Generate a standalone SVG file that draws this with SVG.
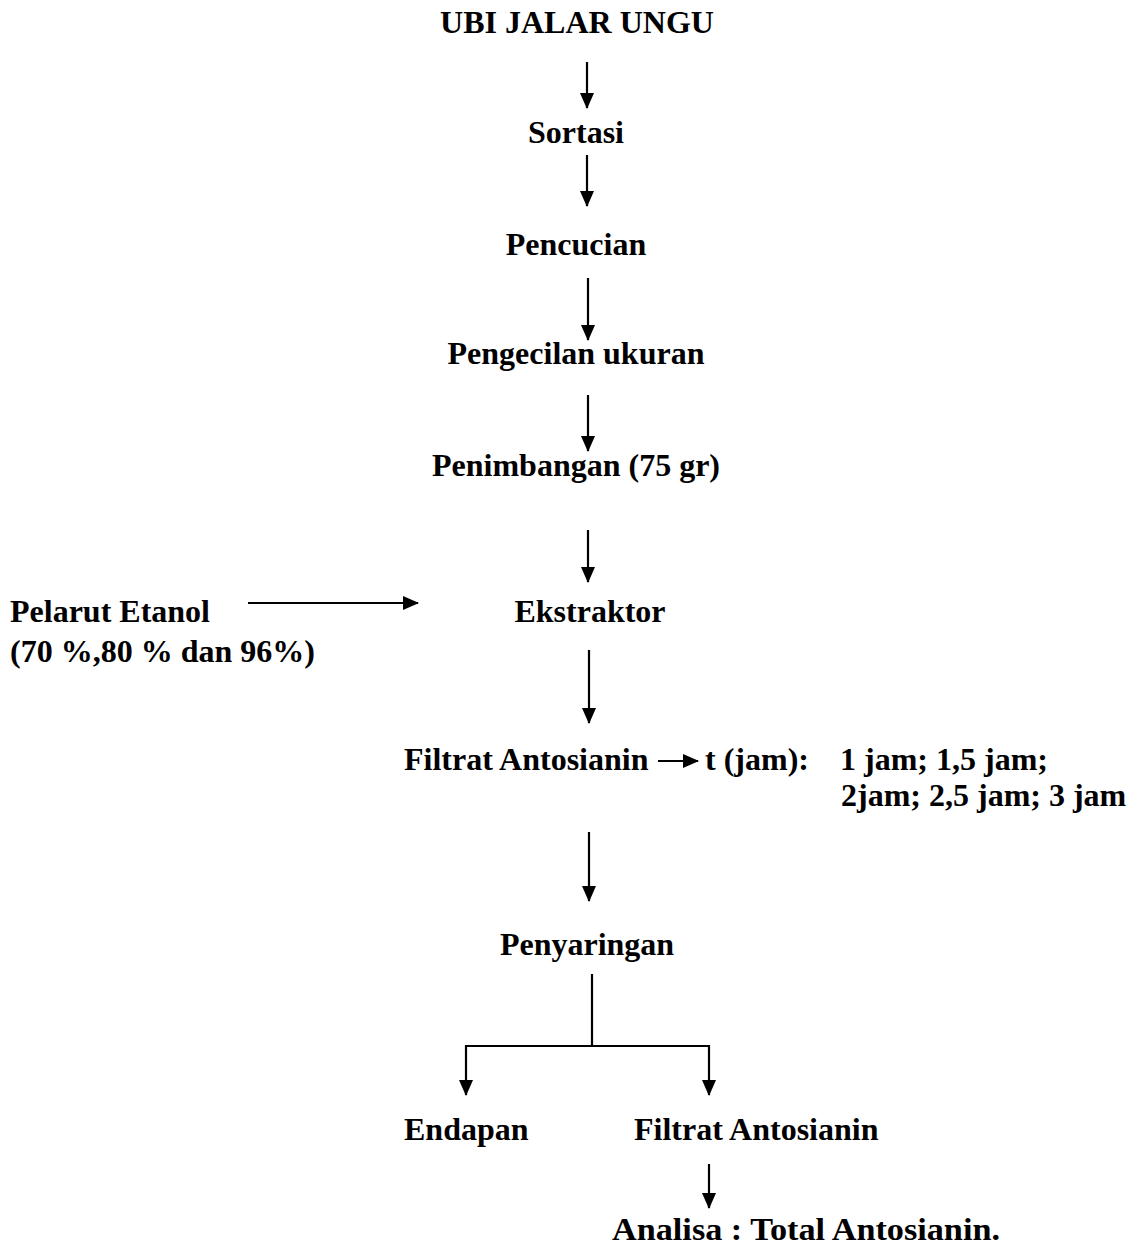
<svg xmlns="http://www.w3.org/2000/svg" width="1136" height="1251" viewBox="0 0 1136 1251">
<defs>
<style>
text{font-family:"Liberation Serif","Times New Roman",serif;font-weight:bold;font-size:32px;fill:#000}
.c{text-anchor:middle}
.ln{stroke:#000;stroke-width:2.2;fill:none}
</style>
<marker id="ah" markerWidth="16" markerHeight="14" refX="15" refY="7" orient="auto" markerUnits="userSpaceOnUse"><path d="M0,0 L16,7 L0,14 z" fill="#000"/></marker>
</defs>
<rect width="1136" height="1251" fill="#fff"/>
<g id="connectors">
<line class="ln" x1="587" y1="62" x2="587" y2="108" marker-end="url(#ah)"/>
<line class="ln" x1="587" y1="155" x2="587" y2="206" marker-end="url(#ah)"/>
<line class="ln" x1="588" y1="278" x2="588" y2="340" marker-end="url(#ah)"/>
<line class="ln" x1="588" y1="395" x2="588" y2="451" marker-end="url(#ah)"/>
<line class="ln" x1="588" y1="530" x2="588" y2="582" marker-end="url(#ah)"/>
<line class="ln" x1="248" y1="603" x2="418" y2="603" marker-end="url(#ah)"/>
<line class="ln" x1="589" y1="650" x2="589" y2="723" marker-end="url(#ah)"/>
<line class="ln" x1="658" y1="761" x2="698" y2="761" marker-end="url(#ah)"/>
<line class="ln" x1="589" y1="832" x2="589" y2="901" marker-end="url(#ah)"/>
<polyline class="ln" points="592,974 592,1046"/>
<line class="ln" x1="465" y1="1046" x2="710" y2="1046"/>
<line class="ln" x1="466" y1="1045" x2="466" y2="1095" marker-end="url(#ah)"/>
<line class="ln" x1="709" y1="1045" x2="709" y2="1095" marker-end="url(#ah)"/>
<line class="ln" x1="709" y1="1164" x2="709" y2="1208" marker-end="url(#ah)"/>
</g>
<g id="n1"><text class="c" x="577" y="33">UBI JALAR UNGU</text></g>
<g id="n2"><text class="c" x="576" y="143">Sortasi</text></g>
<g id="n3"><text class="c" x="576" y="255">Pencucian</text></g>
<g id="n4"><text class="c" x="576" y="364">Pengecilan ukuran</text></g>
<g id="n5"><text class="c" x="576" y="476">Penimbangan (75 gr)</text></g>
<g id="n6"><text class="c" x="590" y="622">Ekstraktor</text></g>
<g id="n7"><text x="10" y="622">Pelarut Etanol</text><text x="10" y="662">(70 %,80 % dan 96%)</text></g>
<g id="n8"><text x="404" y="770">Filtrat Antosianin</text></g>
<g id="n9"><text x="705" y="770">t (jam):</text><text x="840" y="770">1 jam; 1,5 jam;</text><text x="841" y="806">2jam; 2,5 jam; 3 jam</text></g>
<g id="n10"><text class="c" x="587" y="955">Penyaringan</text></g>
<g id="n11"><text x="404" y="1140">Endapan</text></g>
<g id="n12"><text x="634" y="1140">Filtrat Antosianin</text></g>
<g id="n13"><text x="612" y="1240" textLength="388" lengthAdjust="spacingAndGlyphs">Analisa : Total Antosianin.</text></g>
</svg>
